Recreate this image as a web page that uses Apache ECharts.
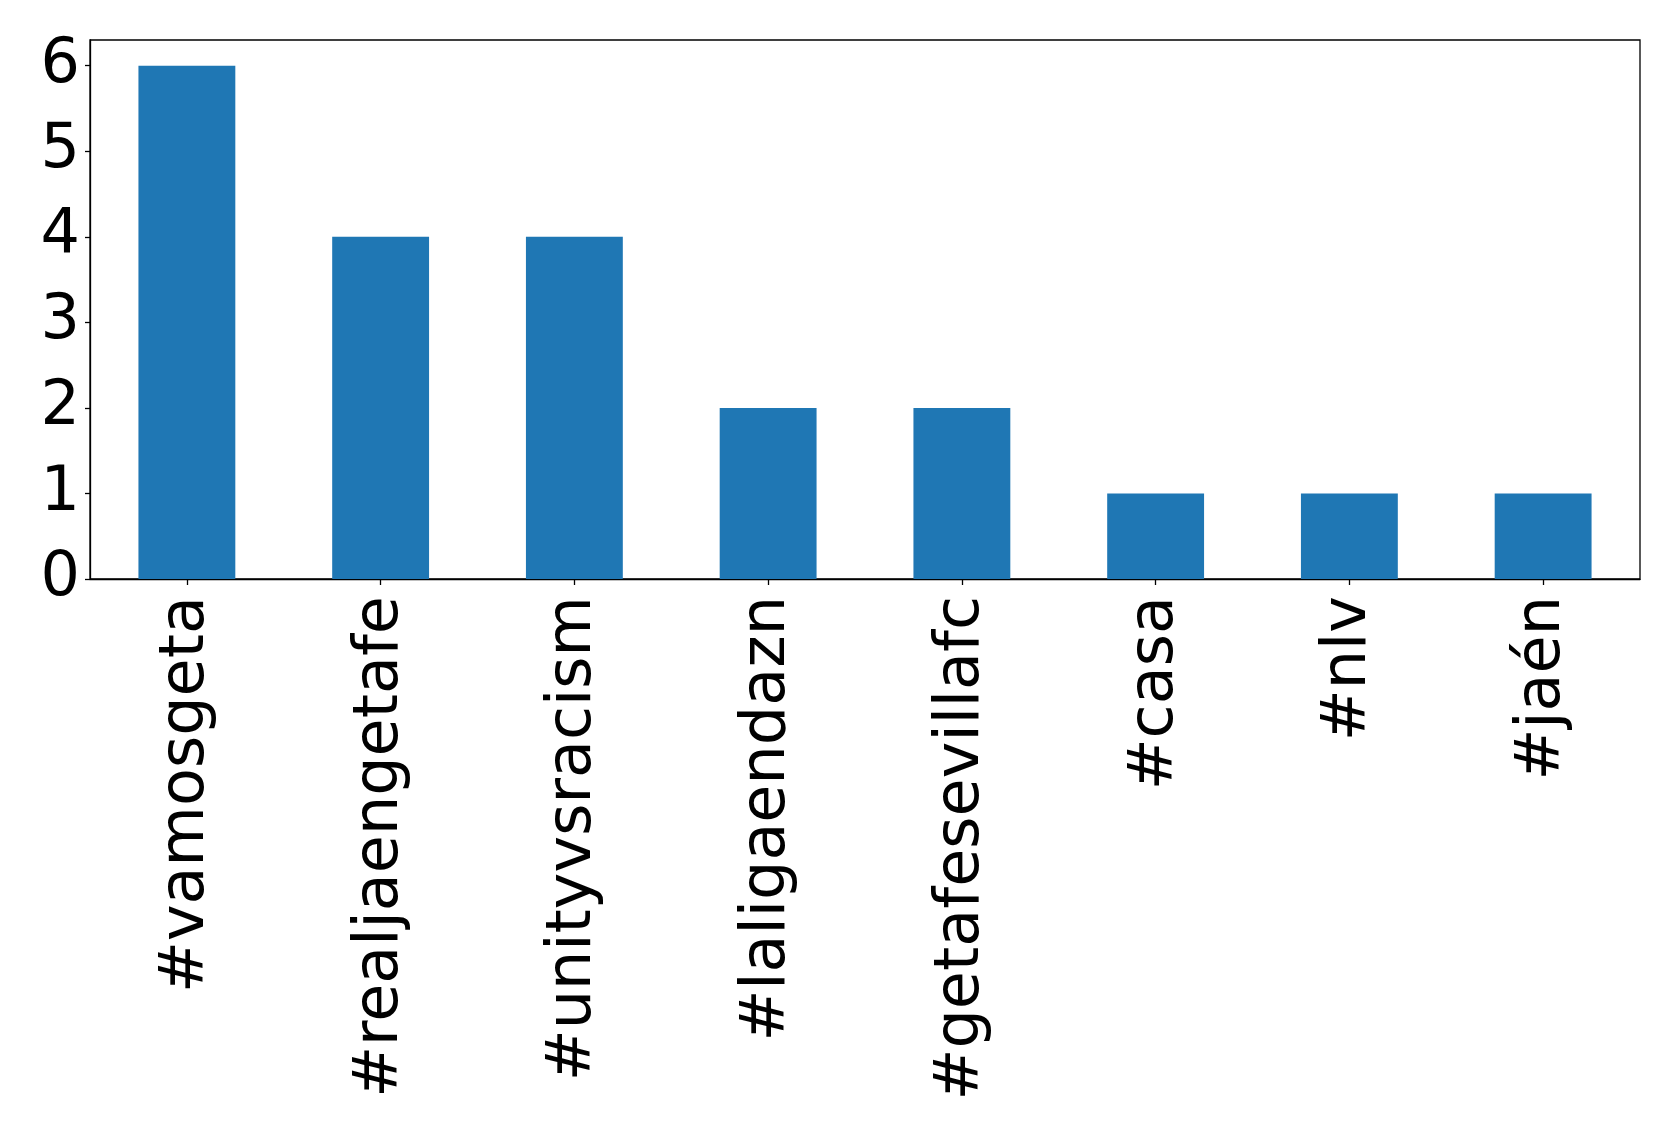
<!DOCTYPE html>
<html>
<head>
<meta charset="utf-8">
<script src="https://cdn.jsdelivr.net/npm/echarts@6/dist/echarts.min.js"></script>
<style>
html,body{margin:0;padding:0;background:#fff;}
#chart{width:1679px;height:1137px;}
</style>
</head>
<body>
<div id="chart"></div>
<script>
const categories = ['#vamosgeta', '#realjaengetafe', '#unityvsracism', '#laligaendazn', '#getafesevillafc', '#casa', '#nlv', '#jaén'];
const counts = [6, 4, 4, 2, 2, 1, 1, 1];
const yTicks = [0, 1, 2, 3, 4, 5, 6];
const yMax = 6.3;

const chart = echarts.init(document.getElementById('chart'), null, {renderer: 'canvas'});
const font = '"DejaVu Sans", sans-serif';
chart.setOption({
  animation: false,
  backgroundColor: '#ffffff',
  grid: {
    left: 90, right: 39, top: 40, bottom: 558,
    show: true, borderColor: '#000', borderWidth: 1.3, backgroundColor: 'transparent'
  },
  xAxis: {
    type: 'category',
    data: categories,
    axisLine: {show: true, lineStyle: {color: '#000', width: 1.3}},
    axisTick: {show: true, alignWithLabel: true, length: 6, lineStyle: {color: '#000', width: 1.3}},
    axisLabel: {
      rotate: 90, interval: 0, margin: 17,
      color: '#000', fontSize: 62, fontFamily: font
    },
    splitLine: {show: false}
  },
  yAxis: {
    type: 'value',
    min: 0, max: yMax,
    axisLine: {show: true, lineStyle: {color: '#000', width: 1.3}},
    axisTick: {show: true, length: 5, lineStyle: {color: '#000', width: 1.3}, customValues: yTicks},
    axisLabel: {color: '#000', fontSize: 62, fontFamily: font, margin: 10, customValues: yTicks},
    splitLine: {show: false}
  },
  series: [{
    type: 'bar',
    data: counts,
    barWidth: '50%',
    itemStyle: {color: '#1f77b4'}
  }]
});
</script>
</body>
</html>
